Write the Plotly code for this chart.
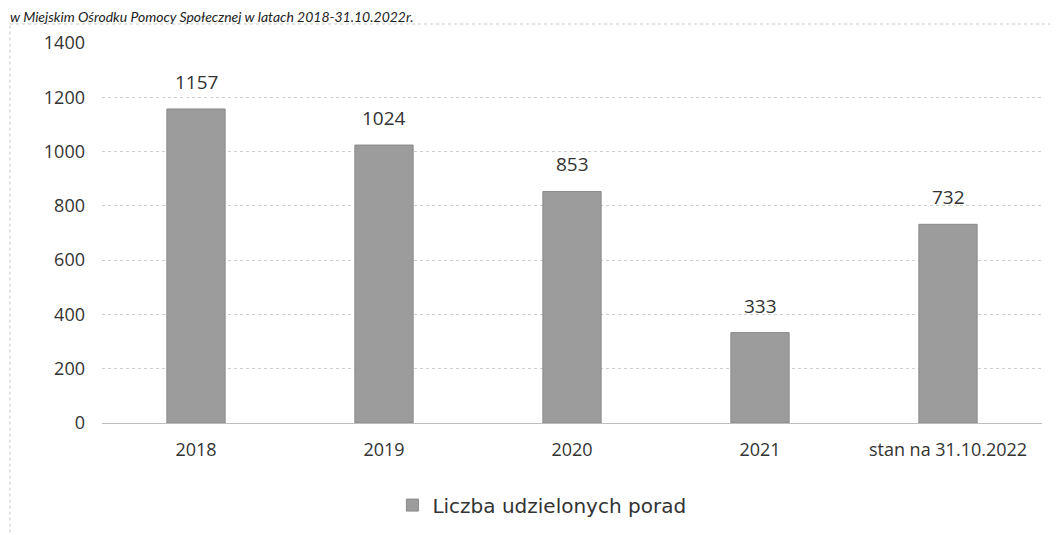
import plotly.graph_objects as go

categories = ["2018", "2019", "2020", "2021", "stan na 31.10.2022"]
values = [1157, 1024, 853, 333, 732]
series_name = "Liczba udzielonych porad"
title_text = "w Miejskim Ośrodku Pomocy Społecznej w latach 2018-31.10.2022r."

fig = go.Figure()
fig.add_trace(go.Bar(
    x=categories, y=values, name=series_name,
    marker=dict(color="#9c9c9c", line=dict(color="#8a8a8a", width=1)),
    width=0.31,
))

# value labels above the bars (category index positions on the category axis)
for i, v in enumerate(values):
    fig.add_annotation(x=i, y=v, xref="x", yref="y", text=str(v), showarrow=False,
                       yanchor="bottom", yshift=12,
                       font=dict(family="Open Sans, Liberation Sans, sans-serif", size=19, color="#333"))

fig.update_layout(
    width=1058, height=535,
    paper_bgcolor="white", plot_bgcolor="white",
    margin=dict(l=94, r=24, t=35, b=120, autoexpand=False),
    showlegend=True,
    legend=dict(orientation="h", x=0.468, y=-0.216, xanchor="center", yanchor="middle",
                font=dict(family="DejaVu Sans, sans-serif", size=20, color="#333"),
                itemwidth=30),
    xaxis=dict(type="category", categoryarray=categories, range=[-0.5, len(categories) - 0.5],
               showgrid=False, showline=False, ticks="", ticklabelstandoff=14,
               tickfont=dict(family="Open Sans, Liberation Sans, sans-serif", size=18, color="#333")),
    yaxis=dict(range=[0, 1400], dtick=200, showgrid=True, gridcolor="#cfcfcf", gridwidth=1,
               griddash="dot", zeroline=True, zerolinecolor="#bdbdbd", zerolinewidth=1,
               ticklabelstandoff=16,
               tickfont=dict(family="Open Sans, Liberation Sans, sans-serif", size=18, color="#333")),
    font=dict(family="Open Sans, sans-serif", color="#333"),
)

# chart border (dotted) like the scanned page
fig.add_shape(type="line", xref="paper", yref="paper", x0=-0.0979, x1=-0.0979, y0=-0.32, y1=1.05,
              line=dict(color="#c8c8c8", width=1, dash="dot"))
fig.add_shape(type="line", xref="paper", yref="paper", x0=-0.0979, x1=1.03, y0=1.05, y1=1.05,
              line=dict(color="#c8c8c8", width=1, dash="dot"))

# title at very top (cut in the scan, kept fully readable here)
fig.add_annotation(text="<i>" + title_text + "</i>", xref="paper", yref="paper",
                   x=-0.1, y=1.0697, xanchor="left", yanchor="middle", showarrow=False,
                   font=dict(family="Lato, sans-serif", size=14, color="#222"))

fig.write_html("out.html")
